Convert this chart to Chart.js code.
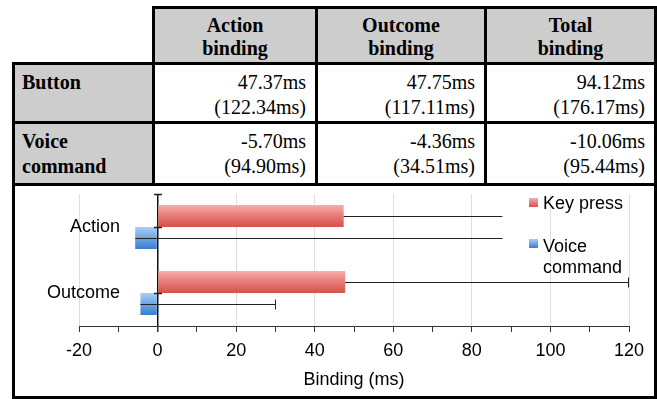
<!DOCTYPE html>
<html>
<head>
<meta charset="utf-8">
<script src="https://cdn.jsdelivr.net/npm/chart.js@4.4.0/dist/chart.umd.min.js"></script>
<style>
    html, body { margin: 0; padding: 0; background: #fff; }
    body { width: 657px; height: 399px; position: relative; overflow: hidden; font-family: "Liberation Serif", serif; }
    .cell { position: absolute; box-sizing: border-box; border: 3px solid #000; font-size: 20px; line-height: 25px; color: #000; }
    .head { background: #cdcdcd; font-weight: bold; text-align: center; line-height: 23px; display: flex; flex-direction: column; justify-content: center; padding-top: 2px; }
    .rowhead { background: #cdcdcd; font-weight: bold; padding: 5px 0 0 7px; }
    .val { background: #fff; text-align: right; padding: 5px 9px 0 0; }
    #chartBox { position: absolute; left: 12px; top: 183px; width: 645px; height: 216px; box-sizing: border-box; border: 3px solid #000; background: #fff; }
    #chartBox canvas { position: absolute; left: 0; top: 0; }
    .leg { position: absolute; font-family: "Liberation Sans", sans-serif; font-size: 18px; line-height: 21px; color: #000; z-index: 2; }
    .legbox { position: absolute; width: 9px; height: 9px; z-index: 2; }
</style>
</head>
<body>
<div id="tabela"></div>
<div id="chartBox"><canvas id="grafico" width="639" height="210"></canvas></div>
<div id="legenda"></div>
<script>
// tabela
var colHeads = ["Action binding", "Outcome binding", "Total binding"];
var rowHeads = ["Button", "Voice command"];
var buttonMean = [47.37, 47.75, 94.12];
var buttonSd = [122.34, 117.11, 176.17];
var voiceMean = [-5.70, -4.36, -10.06];
var voiceSd = [94.90, 34.51, 95.44];

// gráfico
var categories = ["Action", "Outcome"];
var seriesNames = ["Key press", "Voice command"];
var keyPress = [47.37, 47.75];
var voiceCmd = [-5.70, -4.36];
var keyPressErr = [40.4, 117.11];
var voiceErr = [93.5, 34.51];
var errCap = [false, true];
var xTicks = [-20, 0, 20, 40, 60, 80, 100, 120];

var palette = [
    ["#f7aeac", "#e67a76", "#d6514c"],
    ["#aacdf3", "#6ea5e3", "#3a7ecf"]
];

var fonteGrafico = "'Liberation Sans', Arial, sans-serif";

/*
 * Monta a tabela com posições absolutas (as bordas sobrepõem-se).
 */
function montarTabela() {
    var colL = [12, 152, 315, 484, 654];
    var rowL = [6, 62, 121, 183];
    var means = [buttonMean, voiceMean];
    var sds = [buttonSd, voiceSd];
    var html = "";

    function box(cls, c, r, inner) {
        var l = colL[c], t = rowL[r];
        var w = colL[c + 1] + 3 - l, h = rowL[r + 1] + 3 - t;
        return "<div class=\"cell " + cls + "\" style=\"left:" + l + "px;top:" + t + "px;width:" + w + "px;height:" + h + "px\">" + inner + "</div>";
    }

    for (let c = 0; c < colHeads.length; c++) {
        var parts = colHeads[c].split(" ");
        html += box("head", c + 1, 0, "<div>" + parts[0] + "</div><div>" + parts[1] + "</div>");
    }
    for (let r = 0; r < rowHeads.length; r++) {
        html += box("rowhead", 0, r + 1, rowHeads[r].replace(" ", "<br>"));
        for (let c = 0; c < colHeads.length; c++) {
            html += box("val", c + 1, r + 1, means[r][c].toFixed(2) + "ms<br>(" + sds[r][c].toFixed(2) + "ms)");
        }
    }
    document.getElementById("tabela").innerHTML = html;
}

/*
 * Legenda em HTML por cima do gráfico.
 */
function montarLegenda() {
    var boxTop = [198, 239];
    var textTop = [193, 236];
    var html = "";
    for (let d = 0; d < seriesNames.length; d++) {
        html += "<div class=\"legbox\" style=\"left:529px;top:" + boxTop[d] + "px;background:linear-gradient(" + palette[d][0] + "," + palette[d][2] + ")\"></div>";
        html += "<div class=\"leg\" style=\"left:543px;top:" + textTop[d] + "px;width:95px\">" + seriesNames[d] + "</div>";
    }
    document.getElementById("legenda").innerHTML = html;
}

var catPct = 0.667;

function barFill(d) {
    return function (ctx) {
        var chart = ctx.chart;
        var yS = chart.scales.y;
        if (ctx.type !== "data" || !yS || !chart.chartArea) {
            return palette[d][1];
        }
        var c = yS.getPixelForValue(ctx.dataIndex);
        var t = yS.height / categories.length * catPct / 2;
        var top = d === 0 ? c - t : c;
        var g = chart.ctx.createLinearGradient(0, top, 0, top + t);
        g.addColorStop(0, palette[d][0]);
        g.addColorStop(0.5, palette[d][1]);
        g.addColorStop(1, palette[d][2]);
        return g;
    };
}

// barras de erro e marcas no eixo do zero
var errorBars = {
    id: "errorBars",
    afterDatasetsDraw(chart) {
        var ctx = chart.ctx;
        var xS = chart.scales.x, yS = chart.scales.y;
        var area = chart.chartArea;
        var errs = [keyPressErr, voiceErr];
        ctx.save();
        ctx.strokeStyle = "#222";
        ctx.lineWidth = 1;
        chart.data.datasets.forEach(function (ds, d) {
            chart.getDatasetMeta(d).data.forEach(function (bar, i) {
                var v = ds.data[i];
                var x1 = xS.getPixelForValue(v);
                var x2 = Math.min(xS.getPixelForValue(v + errs[d][i]), area.right);
                var y = Math.round(bar.y) + 0.5;
                ctx.beginPath();
                ctx.moveTo(x1, y);
                ctx.lineTo(x2, y);
                if (errCap[i]) {
                    ctx.moveTo(Math.round(x2) - 0.5, y - 5);
                    ctx.lineTo(Math.round(x2) - 0.5, y + 5);
                }
                ctx.stroke();
            });
        });
        var x0 = Math.round(xS.getPixelForValue(0));
        ctx.lineWidth = 1.5;
        ctx.beginPath();
        ctx.moveTo(x0 - 4, area.top + 0.5);
        ctx.lineTo(x0 + 4, area.top + 0.5);
        for (let i = 0; i < categories.length; i++) {
            var yc = Math.round(yS.getPixelForValue(i)) + 0.5;
            ctx.moveTo(x0 - 4, yc);
            ctx.lineTo(x0 + 4, yc);
        }
        ctx.stroke();
        ctx.restore();
    }
};

function desenharGrafico() {
    Chart.defaults.font.family = fonteGrafico;
    Chart.defaults.color = "#000";

    // rótulos do eixo y alinhados à direita perto do zero (mirror + crossAlign far)
    var medidor = document.createElement("canvas").getContext("2d");
    medidor.font = "18px " + fonteGrafico;
    var maisLargo = Math.max.apply(null, categories.map(c => medidor.measureText(c).width));

    const ctx = document.getElementById("grafico");
    new Chart(ctx, {
        type: "bar",
        data: {
            labels: categories,
            datasets: [{
                    label: seriesNames[0],
                    data: keyPress,
                    backgroundColor: barFill(0),
                    borderWidth: 0,
                    categoryPercentage: catPct,
                    barPercentage: 1
                }, {
                    label: seriesNames[1],
                    data: voiceCmd,
                    backgroundColor: barFill(1),
                    borderWidth: 0,
                    categoryPercentage: catPct,
                    barPercentage: 1
                }]
        },
        options: {
            indexAxis: "y",
            responsive: false,
            animation: false,
            layout: { padding: { top: 8, right: 25, left: 0, bottom: 0 } },
            plugins: { legend: { display: false }, tooltip: { enabled: false } },
            scales: {
                x: {
                    min: xTicks[0],
                    max: xTicks[xTicks.length - 1],
                    ticks: {
                        stepSize: 10,
                        autoSkip: false,
                        maxRotation: 0,
                        padding: 8,
                        font: { size: 18 },
                        callback: function (v) { return xTicks.includes(v) ? String(v) : ""; }
                    },
                    grid: {
                        color: function (c) {
                            if (c.tick.value === 0) return "#111";
                            return c.tick.value % 20 === 0 ? "#dedede" : "rgba(0,0,0,0)";
                        },
                        lineWidth: function (c) { return c.tick.value === 0 ? 1.5 : 1; },
                        tickColor: "#333",
                        tickLength: 6
                    },
                    border: { display: true, color: "#333", width: 1 },
                    title: {
                        display: true,
                        text: "Binding (ms)",
                        font: { size: 18 },
                        padding: { top: 0, bottom: 5 }
                    },
                    afterFit: function (s) { s.height = 70; }
                },
                y: {
                    grid: { display: false, drawTicks: false },
                    border: { display: false },
                    ticks: {
                        mirror: true,
                        crossAlign: "far",
                        padding: 41 - maisLargo,
                        font: { size: 18 }
                    },
                    afterFit: function (s) { s.width = 64; }
                }
            }
        },
        plugins: [errorBars]
    });
}

montarTabela();
montarLegenda();
desenharGrafico();
</script>
</body>
</html>
